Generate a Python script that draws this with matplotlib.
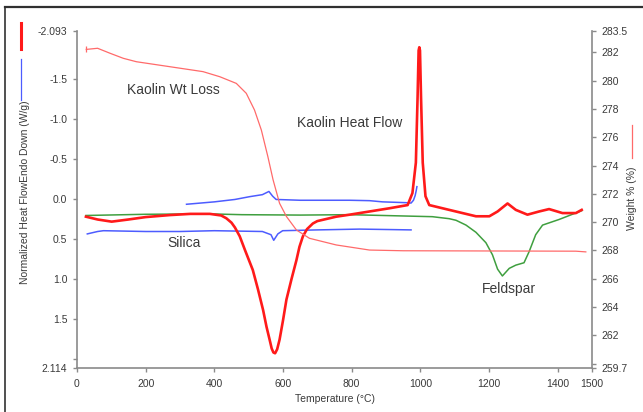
import matplotlib
matplotlib.use("Agg")
import matplotlib.pyplot as plt
from matplotlib.lines import Line2D

plt.rcParams['font.family'] = ['Liberation Sans', 'DejaVu Sans']
plt.rcParams['axes.unicode_minus'] = False

# Kaolin heat flow (W/g), endo down -> plotted on an inverted axis
kaolin_hf_t = [26, 60, 101, 150, 200, 270, 330, 387, 420, 435, 450, 460, 474, 490, 512,
               527, 542, 552, 561, 567, 572, 577, 583, 590, 600, 610, 625, 639, 648, 658,
               670, 687, 700, 720, 755, 794, 852, 910, 963, 977, 987, 992, 995, 997, 999,
               1002, 1007, 1015, 1026, 1084, 1162, 1201, 1225, 1254, 1278, 1312, 1346,
               1375, 1414, 1453, 1470]
kaolin_hf = [0.225, 0.26, 0.287, 0.26, 0.23, 0.205, 0.19, 0.19, 0.21, 0.245, 0.3, 0.36,
             0.47, 0.65, 0.89, 1.13, 1.39, 1.6, 1.76, 1.87, 1.92, 1.93, 1.88, 1.76, 1.52,
             1.26, 1.0, 0.77, 0.6, 0.47, 0.38, 0.31, 0.28, 0.26, 0.225, 0.2, 0.16, 0.12,
             0.08, -0.07, -0.45, -1.27, -1.85, -1.89, -1.85, -1.27, -0.45, -0.03, 0.08,
             0.14, 0.22, 0.22, 0.16, 0.06, 0.14, 0.2, 0.16, 0.13, 0.18, 0.18, 0.14]

# Feldspar heat flow
feldspar_t = [26, 200, 387, 480, 650, 794, 939, 1035, 1084, 1104, 1133, 1162, 1191,
              1210, 1225, 1239, 1259, 1278, 1302, 1317, 1336, 1356, 1404, 1470]
feldspar_hf = [0.21, 0.195, 0.19, 0.2, 0.205, 0.2, 0.215, 0.225, 0.25, 0.27, 0.33,
               0.42, 0.55, 0.7, 0.88, 0.965, 0.87, 0.83, 0.8, 0.66, 0.45, 0.33, 0.26, 0.15]

# Silica heat flow, heating run
silica_heat_t = [30, 60, 77, 200, 300, 400, 540, 565, 573, 585, 599, 700, 823, 900, 973]
silica_heat = [0.44, 0.41, 0.40, 0.41, 0.41, 0.40, 0.41, 0.45, 0.52, 0.44, 0.40, 0.39,
               0.38, 0.385, 0.39]

# Silica heat flow, cooling run
silica_cool_t = [319, 400, 460, 503, 540, 559, 570, 580, 650, 794, 852, 890, 958, 973,
                 980, 985, 988, 990]
silica_cool = [0.07, 0.04, 0.01, -0.025, -0.05, -0.09, -0.03, 0.01, 0.02, 0.02, 0.025,
               0.04, 0.05, 0.055, 0.02, -0.04, -0.10, -0.15]

# Kaolin weight (%)
kaolin_wt_t = [27, 60, 96, 135, 173, 270, 367, 416, 464, 493, 517, 537, 556, 571, 590,
               610, 639, 677, 755, 852, 950, 1453, 1482]
kaolin_wt = [282.2, 282.28, 281.93, 281.57, 281.33, 280.98, 280.63, 280.27, 279.8,
             279.1, 277.92, 276.5, 274.62, 273.0, 271.33, 270.4, 269.45, 268.86, 268.39,
             268.03, 267.98, 267.95, 267.9]

x_ticks = [0, 200, 400, 600, 800, 1000, 1200, 1400, 1500]
hf_ticks = [-2.093, -1.5, -1.0, -0.5, 0.0, 0.5, 1.0, 1.5, 2.0, 2.114]
hf_tick_labels = ['-2.093', '-1.5', '-1.0', '-0.5', '0.0', '0.5', '1.0', '1.5', '', '2.114']
wt_ticks = [259.7, 260, 262, 264, 266, 268, 270, 272, 274, 276, 278, 280, 282, 283.5]
wt_tick_labels = ['259.7', '', '262', '264', '266', '268', '270', '272', '274', '276',
                  '278', '280', '282', '283.5']

RED = '#ff1a1a'
WT_RED = '#ff6a6a'
GREEN = '#3f9f3f'
BLUE = '#4d5cff'
AXIS = '#8a8a8a'
TXT = '#3a3a3a'

W, H = 643, 412
fig = plt.figure(figsize=(W / 100, H / 100), dpi=100)
fig.patch.set_facecolor('white')

x0, x1, y0, y1 = 77, 592, 31, 368
ax = fig.add_axes([x0 / W, 1 - y1 / H, (x1 - x0) / W, (y1 - y0) / H])
ax2 = ax.twinx()

ax.plot(feldspar_t, feldspar_hf, color=GREEN, lw=1.1, zorder=3)
ax.plot(silica_heat_t, silica_heat, color=BLUE, lw=1.1, zorder=3)
ax.plot(silica_cool_t, silica_cool, color=BLUE, lw=1.1, zorder=3)
ax.plot(kaolin_hf_t, kaolin_hf, color=RED, lw=1.9, zorder=4)
ax2.plot(kaolin_wt_t, kaolin_wt, color=WT_RED, lw=0.9, marker='|', markevery=[0],
         markersize=4, markeredgewidth=0.9)

ax.set_xlim(0, 1500)
ax.set_ylim(2.114, -2.093)
ax2.set_ylim(259.7, 283.5)

ax.set_xticks(x_ticks)
ax.set_xticklabels([str(t) for t in x_ticks])
ax.set_yticks(hf_ticks)
ax.set_yticklabels(hf_tick_labels)
ax2.set_yticks(wt_ticks)
ax2.set_yticklabels(wt_tick_labels)

for a in (ax, ax2):
    a.patch.set_visible(False)
    a.spines['top'].set_visible(False)
    for s in ('left', 'right', 'bottom'):
        a.spines[s].set_color(AXIS)
        a.spines[s].set_linewidth(1.2)
    a.tick_params(colors=AXIS, labelcolor=TXT, labelsize=7.5, length=3, width=1,
                  direction='out')
ax.spines['right'].set_visible(False)
ax2.spines['left'].set_visible(False)
ax2.spines['bottom'].set_visible(False)
ax.tick_params(axis='x', pad=5)
ax.tick_params(axis='y', pad=4)
ax2.tick_params(axis='y', pad=4)

ax.text(145, -1.36, 'Kaolin Wt Loss', fontsize=10, color=TXT, va='center', ha='left')
ax.text(642, -0.945, 'Kaolin Heat Flow', fontsize=10, color=TXT, va='center', ha='left')
ax.text(264, 0.55, 'Silica', fontsize=10, color=TXT, va='center', ha='left')
ax.text(1180, 1.13, 'Feldspar', fontsize=10, color=TXT, va='center', ha='left')

fig.text(335 / W, 1 - 399 / H, 'Temperature (\u00b0C)', fontsize=7.5, color=TXT,
         ha='center', va='center')
fig.text(25 / W, 1 - 192 / H, 'Normalized Heat FlowEndo Down (W/g)', fontsize=7.5,
         color=TXT, rotation=90, ha='center', va='center')
fig.text(632 / W, 1 - 198 / H, 'Weight % (%)', fontsize=7.5, color=TXT, rotation=90,
         ha='center', va='center')

# series key marks beside the axis titles
fig.add_artist(Line2D([21 / W, 21 / W], [1 - 23 / H, 1 - 49 / H], color=RED, lw=2.2))
fig.add_artist(Line2D([21 / W, 21 / W], [1 - 59 / H, 1 - 100 / H], color=BLUE, lw=0.9))
fig.add_artist(Line2D([632 / W, 632 / W], [1 - 125 / H, 1 - 158 / H], color=WT_RED, lw=0.9))

# outer frame
fig.add_artist(Line2D([5 / W, 5 / W], [0, 1 - 7 / H], color='#505050', lw=1.4))
fig.add_artist(Line2D([5 / W, 1], [1 - 7 / H, 1 - 7 / H], color='#303030', lw=1.6))

fig.savefig('out.png', dpi=100)
